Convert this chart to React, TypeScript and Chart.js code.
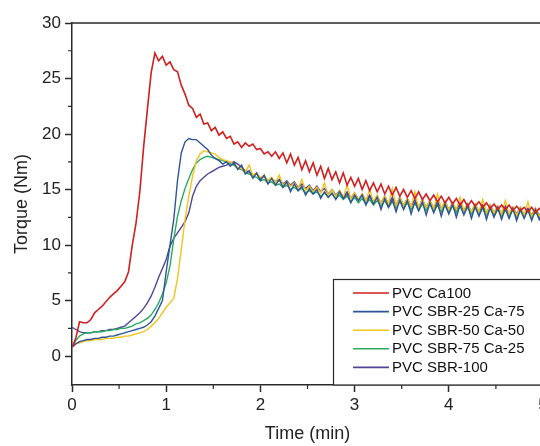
import React, { useEffect, useRef } from "react";
import { Chart, registerables } from "chart.js";

Chart.register(...registerables);

// ---------- DATA ----------
const timeMin = [
  0.0, 0.04, 0.08, 0.12, 0.16, 0.2, 0.24, 0.28, 0.32, 0.36,
  0.4, 0.44, 0.48, 0.52, 0.56, 0.6, 0.64, 0.68, 0.72, 0.76,
  0.8, 0.84, 0.88, 0.92, 0.96, 1.0, 1.04, 1.08, 1.12, 1.16,
  1.2, 1.24, 1.28, 1.32, 1.36, 1.4, 1.44, 1.48, 1.52, 1.56,
  1.6, 1.64, 1.68, 1.72, 1.76, 1.8, 1.84, 1.88, 1.92, 1.96,
  2.0, 2.04, 2.08, 2.12, 2.16, 2.2, 2.24, 2.28, 2.32, 2.36,
  2.4, 2.44, 2.48, 2.52, 2.56, 2.6, 2.64, 2.68, 2.72, 2.76,
  2.8, 2.84, 2.88, 2.92, 2.96, 3.0, 3.04, 3.08, 3.12, 3.16,
  3.2, 3.24, 3.28, 3.32, 3.36, 3.4, 3.44, 3.48, 3.52, 3.56,
  3.6, 3.64, 3.68, 3.72, 3.76, 3.8, 3.84, 3.88, 3.92, 3.96,
  4.0, 4.04, 4.08, 4.12, 4.16, 4.2, 4.24, 4.28, 4.32, 4.36,
  4.4, 4.44, 4.48, 4.52, 4.56, 4.6, 4.64, 4.68, 4.72, 4.76,
  4.8, 4.84, 4.88, 4.92, 4.96, 5.0,
];

const ca100 = [
  0.8, 1.6, 3.1, 3.0, 3.0, 3.3, 3.9, 4.2, 4.5, 4.9,
  5.3, 5.6, 5.9, 6.3, 6.7, 7.6, 10.0, 12.0, 14.8, 18.8,
  22.2, 25.5, 27.3, 26.6, 27.0, 26.2, 26.5, 25.8, 25.6, 24.4,
  23.6, 22.6, 22.3, 21.5, 21.8, 20.9, 21.0, 20.3, 20.6, 19.9,
  20.2, 19.6, 19.8, 19.1, 19.3, 18.8, 19.2, 18.9, 19.1, 18.6,
  18.7, 18.2, 18.4, 18.0, 18.4, 17.8, 18.3, 17.4, 18.2, 17.2,
  17.9, 16.8, 17.6, 16.6, 17.4, 16.3, 17.1, 16.0, 16.9, 15.9,
  16.6, 15.6, 16.5, 15.4, 16.1, 15.3, 16.0, 15.0, 15.8, 14.9,
  15.6, 14.8, 15.5, 14.6, 15.3, 14.5, 15.2, 14.4, 15.0, 14.3,
  14.9, 14.2, 14.8, 14.1, 14.6, 14.0, 14.5, 13.9, 14.4, 13.8,
  14.3, 13.7, 14.2, 13.6, 14.1, 13.5, 14.0, 13.5, 13.9, 13.4,
  13.8, 13.3, 13.7, 13.2, 13.6, 13.2, 13.6, 13.1, 13.5, 13.1,
  13.4, 13.0, 13.4, 12.9, 13.3, 13.0,
];

const sbr25ca75 = [
  0.8, 1.1, 1.3, 1.4, 1.5, 1.5, 1.6, 1.6, 1.7, 1.7,
  1.8, 1.8, 1.9, 2.0, 2.1, 2.2, 2.3, 2.4, 2.5, 2.6,
  2.8, 3.1, 3.6, 4.3, 5.0, 7.6, 10.0, 12.3, 15.8, 18.3,
  19.3, 19.6, 19.5, 19.5, 19.2, 18.9, 18.6, 18.1, 17.8, 17.6,
  17.3, 17.5, 17.1, 17.4, 16.8, 17.2, 16.4, 16.7, 16.0, 16.5,
  15.8, 16.3, 15.5, 16.0, 15.4, 15.9, 15.2, 15.7, 14.8, 15.5,
  14.9, 15.3, 14.5, 15.1, 14.6, 15.0, 14.2, 14.8, 14.3, 14.7,
  14.1, 14.8, 14.2, 14.6, 13.8, 14.5, 14.0, 14.5, 13.6, 14.4,
  13.7, 14.3, 13.2, 14.2, 13.4, 14.1, 13.0, 14.1, 13.2, 14.0,
  12.8, 13.9, 13.1, 13.9, 12.7, 13.8, 12.9, 13.8, 12.6, 13.7,
  12.8, 13.7, 12.5, 13.6, 12.7, 13.6, 12.4, 13.5, 12.6, 13.5,
  12.3, 13.4, 12.5, 13.4, 12.3, 13.3, 12.4, 13.3, 12.2, 13.2,
  12.4, 13.2, 12.2, 13.2, 12.3, 13.1,
];

const sbr50ca50 = [
  0.8, 1.1, 1.2, 1.3, 1.4, 1.4, 1.5, 1.5, 1.5, 1.6,
  1.6, 1.6, 1.7, 1.7, 1.8, 1.8, 1.9, 2.0, 2.1, 2.2,
  2.4, 2.7, 3.0, 3.4, 3.9, 4.4, 4.8, 5.2, 7.0, 9.6,
  12.3, 14.4, 16.2, 17.6, 18.2, 18.5, 18.4, 18.3, 18.2, 17.9,
  17.7, 17.6, 17.5, 17.3, 17.0, 16.9, 16.6, 17.2, 16.3, 16.5,
  16.1, 16.3, 15.8, 16.1, 15.6, 16.3, 15.4, 15.7, 15.3, 15.6,
  15.1, 15.9, 14.9, 15.3, 14.8, 15.2, 14.7, 15.6, 14.5, 15.0,
  14.4, 14.9, 14.3, 15.4, 14.2, 14.7, 14.1, 14.6, 14.0, 15.0,
  13.9, 14.5, 13.8, 14.4, 13.7, 15.1, 13.6, 14.3, 13.6, 14.2,
  13.5, 14.8, 13.4, 14.1, 13.4, 14.0, 13.3, 14.6, 13.3, 13.9,
  13.2, 13.8, 13.2, 14.3, 13.1, 13.7, 13.0, 13.7, 13.0, 14.1,
  12.9, 13.6, 12.9, 13.5, 12.8, 14.0, 12.8, 13.4, 12.7, 13.4,
  12.7, 13.9, 12.6, 13.3, 12.6, 13.2,
];

const sbr75ca25 = [
  0.8, 1.4, 1.8, 2.0, 2.1, 2.1, 2.2, 2.2, 2.2, 2.3,
  2.3, 2.4, 2.4, 2.5, 2.5, 2.6, 2.7, 2.9, 3.0, 3.2,
  3.4, 3.7, 4.2, 4.8, 5.6, 6.6, 8.1, 10.5, 12.6, 14.0,
  15.1, 16.0, 16.8, 17.4, 17.7, 17.9, 18.0, 17.9, 17.8, 17.7,
  17.6, 17.5, 17.3, 17.2, 16.9, 16.8, 16.5, 16.4, 16.2, 16.1,
  15.8, 15.9, 15.6, 15.7, 15.4, 15.5, 15.2, 15.4, 15.0, 15.2,
  14.9, 15.1, 14.7, 14.9, 14.6, 14.8, 14.4, 14.7, 14.3, 14.6,
  14.2, 14.5, 14.1, 14.4, 13.9, 14.3, 13.8, 14.2, 13.7, 14.1,
  13.6, 14.0, 13.5, 14.0, 13.4, 13.9, 13.3, 13.9, 13.3, 13.8,
  13.2, 13.8, 13.1, 13.7, 13.1, 13.7, 13.0, 13.6, 13.0, 13.6,
  12.9, 13.5, 12.9, 13.5, 12.8, 13.4, 12.8, 13.4, 12.7, 13.3,
  12.7, 13.3, 12.6, 13.2, 12.6, 13.2, 12.5, 13.2, 12.5, 13.1,
  12.5, 13.1, 12.4, 13.0, 12.4, 12.9,
];

const sbr100 = [
  2.6, 2.4, 2.2, 2.1, 2.1, 2.1, 2.2, 2.2, 2.3, 2.3,
  2.4, 2.4, 2.5, 2.6, 2.7, 3.0, 3.3, 3.6, 3.9, 4.3,
  4.8, 5.4, 6.2, 7.1, 7.9, 8.7, 9.9, 10.6, 11.1, 11.6,
  12.1, 12.9, 14.4, 15.3, 15.8, 16.1, 16.4, 16.6, 16.8, 17.0,
  17.1, 17.2, 17.4, 17.5, 17.3, 17.0, 16.7, 16.6, 16.3, 16.4,
  16.0, 16.2, 15.8, 16.0, 15.7, 15.9, 15.5, 15.8, 15.4, 15.7,
  15.2, 15.5, 15.1, 15.4, 14.9, 15.3, 14.8, 15.1, 14.6, 15.0,
  14.5, 14.9, 14.3, 14.8, 14.2, 14.7, 14.1, 14.6, 14.0, 14.5,
  13.9, 14.4, 13.8, 14.4, 13.7, 14.3, 13.6, 14.3, 13.6, 14.2,
  13.5, 14.1, 13.4, 14.1, 13.4, 14.0, 13.3, 13.9, 13.3, 13.9,
  13.2, 13.8, 13.1, 13.8, 13.1, 13.7, 13.0, 13.7, 13.0, 13.6,
  12.9, 13.6, 12.9, 13.5, 12.8, 13.5, 12.8, 13.4, 12.8, 13.4,
  12.7, 13.3, 12.7, 13.3, 12.7, 13.1,
];

const seriesLabels = [
  "PVC Ca100",
  "PVC SBR-25 Ca-75",
  "PVC SBR-50 Ca-50",
  "PVC SBR-75 Ca-25",
  "PVC SBR-100",
];
const seriesValues = [ca100, sbr25ca75, sbr50ca50, sbr75ca25, sbr100];
const seriesColors = ["#d21f1f", "#2f5597", "#f2c318", "#2aab62", "#4f4597"];

const xTicks = [0, 1, 2, 3, 4, 5];
const xMinor = [0.5, 1.5, 2.5, 3.5, 4.5];
const yTicks = [0, 5, 10, 15, 20, 25, 30];
const yMinor = [2.5, 7.5, 12.5, 17.5, 22.5, 27.5];

const FONT = "'Liberation Sans', Arial, Helvetica, sans-serif";
const AXIS = "#2a2a2a";

const framePlugin = {
  id: "frameAndLegend",
  afterDraw(chart: any) {
    const { ctx, chartArea: a, scales } = chart;
    const x = scales.x;
    const y = scales.y;
    ctx.save();
    // top and right frame
    ctx.strokeStyle = AXIS;
    ctx.lineWidth = 1.5;
    ctx.beginPath();
    ctx.moveTo(a.left, a.top);
    ctx.lineTo(a.right, a.top);
    ctx.lineTo(a.right, a.bottom);
    ctx.stroke();
    // minor ticks
    ctx.lineWidth = 1.2;
    ctx.beginPath();
    for (const v of xMinor) {
      const px = x.getPixelForValue(v);
      ctx.moveTo(px, a.bottom);
      ctx.lineTo(px, a.bottom + 4);
    }
    for (const v of yMinor) {
      const py = y.getPixelForValue(v);
      ctx.moveTo(a.left, py);
      ctx.lineTo(a.left - 4, py);
    }
    ctx.stroke();

    // legend box
    const bx = 333.5;
    const by = 279.5;
    const bw = 260;
    const bh = a.bottom - by;
    ctx.fillStyle = "#ffffff";
    ctx.fillRect(bx, by, bw, bh);
    ctx.strokeStyle = AXIS;
    ctx.lineWidth = 1.2;
    ctx.strokeRect(bx, by, bw, bh);
    ctx.font = `15px ${FONT}`;
    ctx.textBaseline = "middle";
    ctx.textAlign = "left";
    seriesLabels.forEach((lab, i) => {
      const ry = 293 + i * 18.6;
      ctx.strokeStyle = seriesColors[i];
      ctx.lineWidth = 1.6;
      ctx.beginPath();
      ctx.moveTo(353, ry);
      ctx.lineTo(389, ry);
      ctx.stroke();
      ctx.fillStyle = "#111";
      ctx.fillText(lab, 392, ry + 0.5);
    });
    ctx.restore();
  },
};

export default function App() {
  const ref = useRef<HTMLCanvasElement | null>(null);

  useEffect(() => {
    if (!ref.current) return;
    const datasets = seriesLabels.map((label, i) => ({
      label,
      data: timeMin.map((t, k) => ({ x: t, y: seriesValues[i][k] })),
      borderColor: seriesColors[i],
      backgroundColor: seriesColors[i],
      borderWidth: i === 0 ? 1.6 : 1.4,
      pointRadius: 0,
      tension: 0,
      fill: false,
    }));
    const chart = new Chart(ref.current, {
      type: "line",
      data: { datasets },
      plugins: [framePlugin],
      options: {
        responsive: false,
        animation: false,
        events: [],
        layout: { padding: { left: 0, right: 17, top: 23, bottom: 0 } },
        plugins: { legend: { display: false }, tooltip: { enabled: false } },
        scales: {
          x: {
            type: "linear",
            min: 0,
            max: 5,
            afterBuildTicks: (s: any) => {
              s.ticks = xTicks.map((v) => ({ value: v }));
            },
            afterFit: (s: any) => {
              s.height = 61;
            },
            ticks: {
              color: "#222",
              font: { family: FONT, size: 17 },
              padding: 3,
              maxRotation: 0,
              autoSkip: false,
            },
            grid: {
              drawOnChartArea: false,
              tickLength: 7,
              tickWidth: 1.5,
              tickColor: AXIS,
            },
            border: { color: AXIS, width: 1.5 },
            title: {
              display: true,
              text: "Time (min)",
              color: "#222",
              font: { family: FONT, size: 18 },
              padding: { top: 0, bottom: 1 },
            },
          },
          y: {
            type: "linear",
            min: -2.6,
            max: 30,
            afterBuildTicks: (s: any) => {
              s.ticks = yTicks.map((v) => ({ value: v }));
            },
            afterFit: (s: any) => {
              s.width = 72;
            },
            ticks: {
              color: "#222",
              font: { family: FONT, size: 17 },
              padding: 4,
              autoSkip: false,
            },
            grid: {
              drawOnChartArea: false,
              tickLength: 7,
              tickWidth: 1.5,
              tickColor: AXIS,
            },
            border: { color: AXIS, width: 1.5 },
            title: {
              display: true,
              text: "Torque (Nm)",
              color: "#222",
              font: { family: FONT, size: 18 },
              padding: { top: 11, bottom: 0 },
            },
          },
        },
      },
    } as any);
    return () => chart.destroy();
  }, []);

  return (
    <div
      style={{
        position: "absolute",
        left: 0,
        top: 0,
        width: 540,
        height: 446,
        overflow: "hidden",
        background: "#ffffff",
      }}
    >
      <canvas ref={ref} width={560} height={446} style={{ display: "block" }} />
    </div>
  );
}
